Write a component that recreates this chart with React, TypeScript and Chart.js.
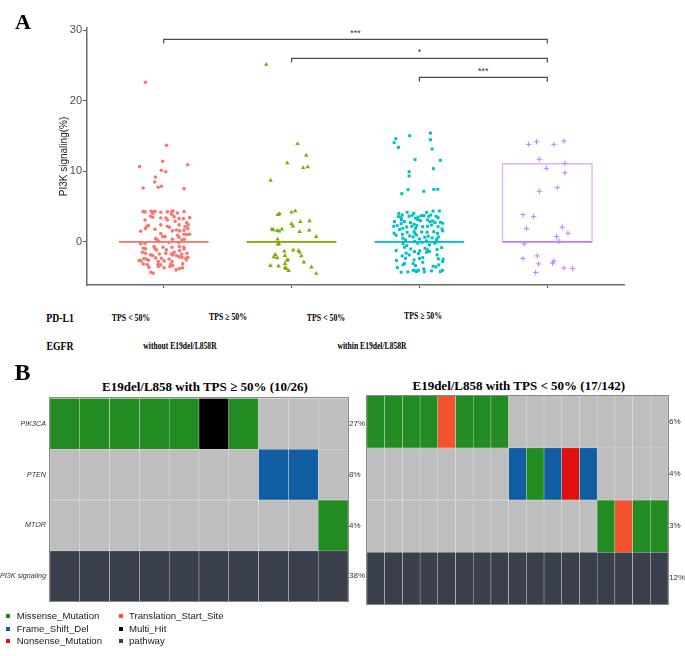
import React, { useEffect, useRef } from 'react';
import { Chart, registerables } from 'chart.js';

Chart.register(...registerables);
Chart.defaults.font.family = "'Liberation Sans', Arial, sans-serif";

// ---------- Panel A data ----------
const groupNames = ['TPS < 50%', 'TPS ≥ 50%', 'TPS < 50%', 'TPS ≥ 50%'];
const egfrNames = ['without E19del/L858R', 'within E19del/L858R'];
const categoryPositions = [1, 2, 3, 4];
const groupColors = ['#F8766D', '#7CAE00', '#00BFC4', '#C77CFF'];
const groupBoxColors = ['rgba(248,118,109,0.6)', 'rgba(124,174,0,0.6)', 'rgba(0,191,196,0.6)', 'rgba(199,124,255,0.6)'];
const groupShapes = ['circle', 'triangle', 'rect', 'cross'];
const yTicks = [0, 10, 20, 30];
const medians = [0, 0, 0, 0];
const boxLow = [0, 0, 0, 0];
const boxHigh = [0, 0, 0, 11.07];
const bracketStart = [1, 2, 3];
const bracketEnd = [4, 4, 4];
const bracketY = [28.7, 26.0, 23.3];
const bracketTip = 0.6;
const bracketLabels = ['***', '*', '***'];

// [jitter offset from category, PI3K signaling %]
const tpsLowWithout: number[][] = [
  [-0.143, 22.6], [0.023, 13.68], [-0.188, 10.66], [-0.008, 11.42], [0.188, 10.94], [-0.018, 10.14], [0.016, 9.95], [-0.065, 9.2], [-0.07, 8.49], [-0.044, 7.74], [-0.018, 7.88], [-0.161, 7.64], [0.159, 7.55],
  [-0.161, 4.29], [-0.146, 4.25], [-0.099, 4.34], [-0.083, 4.25], [-0.068, 4.34], [-0.023, 4.2], [0.063, 4.29], [0.073, 4.39], [0.107, 4.1], [0.159, 4.29], [0.029, 4.25], [-0.086, 4.06],
  [-0.102, 3.63], [-0.086, 3.49], [-0.023, 3.4], [0.018, 3.4], [0.063, 3.92], [0.081, 3.58], [0.12, 3.3], [0.154, 3.3], [0.203, 3.44],
  [-0.146, 3.11], [0.029, 3.11], [0.089, 2.92], [0.18, 2.74],
  [-0.12, 2.31], [-0.133, 2.17], [-0.023, 2.41], [0.029, 2.22], [0.044, 2.08], [0.12, 2.41], [0.167, 2.17], [0.19, 2.41],
  [-0.18, 1.51], [-0.143, 1.89], [-0.068, 1.79], [0.068, 1.56], [0.099, 1.7], [0.125, 1.56], [0.159, 1.65], [0.188, 1.89],
  [-0.023, 1.18], [-0.008, 0.75], [0.01, 0.75], [0.109, 0.94], [0.159, 1.08], [0.18, 1.04], [0.203, 1.08], [0.12, 0.66],
  [-0.063, 0.47], [-0.049, 0.28], [0.068, 0.38], [0.143, 0.28], [0.161, 0.38],
  [-0.18, -0.24], [-0.146, -0.19], [-0.036, 0.05], [0.042, -0.05], [0.117, -0.09],
  [-0.159, -0.9], [-0.076, -0.66], [-0.068, -0.9], [-0.005, -0.75], [0.065, -0.75], [0.122, -0.66], [0.156, -0.75], [-0.143, -0.99],
  [-0.057, -1.13], [0.021, -1.13], [0.125, -1.23], [0.159, -0.99], [0.081, -1.46], [-0.167, -1.46], [-0.143, -1.6],
  [-0.102, -1.84], [-0.086, -1.93], [-0.034, -1.7], [0.016, -1.6], [0.06, -1.7], [0.07, -1.84], [0.099, -1.93], [0.141, -1.75], [0.182, -1.6],
  [-0.154, -2.36], [-0.133, -2.45], [-0.063, -2.26], [-0.018, -2.31], [0.042, -2.41], [0.12, -2.12], [0.143, -2.22], [0.174, -2.31], [0.19, -2.17],
  [-0.193, -2.64], [-0.177, -2.69], [-0.12, -2.59], [-0.042, -2.78], [0.003, -2.69], [0.065, -2.78], [0.177, -2.55],
  [-0.159, -3.11], [-0.128, -3.21], [-0.044, -3.16], [-0.023, -3.25], [0.055, -3.16], [0.07, -3.35], [0.148, -3.11],
  [-0.115, -3.58], [-0.042, -3.49], [0.003, -3.68], [0.096, -3.96], [0.122, -3.77], [0.146, -3.68], [0.049, -3.49],
  [-0.099, -4.29], [-0.083, -4.43],
];

const tpsHighWithout: number[][] = [
  [-0.198, 25.13], [0.047, 13.9], [0.115, 12.26], [-0.034, 11.17], [0.091, 10.51], [0.127, 10.61], [-0.164, 8.72],
  [0, 4.2], [0.029, 4.38], [-0.107, 3.86], [-0.094, 3.96], [0.068, 2.87], [0.141, 2.97], [0, 2.55], [0.01, 2.22],
  [-0.154, 1.8], [-0.143, 1.7], [-0.112, 1.6], [-0.096, 1.51], [-0.076, 1.8], [0.063, 1.46], [0.138, 1.65], [0.193, 0.75],
  [-0.109, 0.38], [-0.107, -0.33], [-0.099, -0.28], [-0.057, -1.32], [0.013, -1.17], [0.055, -1.23], [0.063, -1.46],
  [-0.127, -1.8], [-0.138, -2.12], [-0.112, -2.26], [-0.052, -1.94], [0.076, -1.98], [-0.029, -2.5], [-0.037, -2.64],
  [-0.052, -3.07], [0.096, -2.87], [-0.166, -3.35], [-0.102, -3.44], [-0.052, -3.68], [-0.041, -3.78], [-0.023, -4.06],
  [0.156, -3.58], [0.193, -4.48],
];

const tpsLowWithin: number[][] = [
  [0.086, 15.42], [-0.076, 15.05], [-0.185, 14.62], [-0.198, 14.06], [0.086, 14.48], [-0.164, 13.4], [0.099, 13.16], [-0.034, 11.65], [0.164, 11.56],
  [0.109, 10.38], [-0.081, 9.95], [-0.081, 9.34], [-0.089, 7.41], [0.112, 7.45], [0.143, 7.45], [0.034, 7.17], [-0.138, 6.84],
  [-0.161, 4.05], [-0.096, 4.2], [-0.044, 4.05], [0.057, 4.2], [0.107, 4.38], [0.156, 4.38], [-0.135, 3.82],
  [-0.164, 3.58], [-0.143, 3.44], [-0.081, 3.63], [-0.057, 3.77], [-0.01, 3.54], [0.016, 3.72], [0.036, 3.72], [0.073, 3.63], [0.089, 3.82], [0.13, 3.63], [0.146, 3.44], [-0.031, 3.35],
  [-0.195, 2.88], [-0.141, 3.11], [-0.117, 2.88], [-0.07, 2.73], [-0.013, 3.16], [0.008, 3.02], [0.063, 3.11], [0.083, 2.88], [0.122, 2.73], [0.164, 2.78], [0.182, 2.64], [-0.143, 2.59], [-0.042, 2.5], [0.104, 2.97],
  [-0.201, 2.22], [-0.174, 2.31], [-0.13, 1.93], [-0.099, 2.12], [-0.06, 2.22], [-0.021, 2.31], [0.026, 2.17], [0.063, 2.22], [0.094, 2.4], [0.146, 2.17], [0.177, 1.84], [-0.156, 1.74], [-0.031, 1.93],
  [-0.198, 1.23], [-0.182, 0.94], [-0.133, 1.08], [-0.096, 1.37], [-0.042, 1.46], [-0.036, 1.23], [0.018, 1.41], [0.06, 1.37], [0.112, 1.46], [0.141, 1.23], [0.182, 1.56], [-0.023, 0.99],
  [-0.13, 0.52], [-0.109, 0.28], [-0.049, 0.71], [0, 0.42], [0.042, 0.66], [0.068, 0.8], [0.099, 0.57], [0.135, 0.38], [0.148, 0.71], [-0.076, 0.85],
  [-0.128, -0.24], [-0.039, 0.05], [-0.013, -0.19], [0.021, -0.05], [0.055, 0.14], [0.12, -0.19], [0.133, 0.05], [-0.099, -0.52], [0.078, -0.42],
  [-0.182, -1.23], [-0.117, -0.75], [-0.068, -0.99], [-0.039, -1.37], [0.003, -1.27], [0.044, -0.9], [0.063, -1.13], [0.078, -1.37], [0.138, -1.08], [0.174, -0.8],
  [-0.104, -1.6], [-0.081, -1.84], [-0.008, -1.65], [0.055, -1.46], [0.138, -1.84], [-0.135, -1.98],
  [-0.18, -2.64], [-0.109, -2.31], [-0.042, -2.55], [0, -2.36], [0.026, -2.22], [0.148, -2.4], [0.185, -2.45], [0.182, -2.78],
  [-0.172, -3.63], [-0.128, -3.25], [-0.049, -3.06], [-0.031, -3.35], [0.026, -2.88], [0.107, -3.44], [0.151, -3.25], [-0.117, -3.06],
  [-0.143, -4.29], [-0.091, -4.24], [-0.049, -4.01], [-0.031, -4.1], [-0.008, -4.01], [0.034, -3.82], [0.039, -4.24], [0.094, -4.1], [0.128, -3.54], [0.164, -4.2], [0.18, -4.01], [-0.021, -4.2],
];

const tpsHighWithin: number[][] = [
  [-0.146, 13.82], [-0.084, 14.19], [0.052, 13.82], [0.13, 14.29], [-0.062, 11.7], [0.138, 11.13], [-0.008, 10.42], [0.138, 9.8],
  [0.078, 7.68], [-0.062, 7.17], [-0.19, 3.86], [-0.107, 3.58], [-0.162, 1.88], [0.117, 2.08], [0.162, 1.23], [0.073, 0.75],
  [0.092, 0.1], [-0.18, -0.28], [-0.19, -2.36], [-0.078, -1.98], [-0.068, -3.11], [0.052, -2.69], [0.041, -3.01], [0.13, -3.68],
  [0.198, -3.78], [-0.091, -4.34],
];

// ---------- Panel B data ----------
const mutationCodes = ['M', 'F', 'N', 'T', 'H', 'P'];
const mutationTypes = ['Missense_Mutation', 'Frame_Shift_Del', 'Nonsense_Mutation', 'Translation_Start_Site', 'Multi_Hit', 'pathway'];
const mutationColors = ['#228B22', '#115DA1', '#E0100F', '#F2532C', '#000000', '#393F4C'];
const emptyColor = '#BEBEBE';
const geneNames = ['PIK3CA', 'PTEN', 'MTOR', 'PI3K signaling'];

const highTitle = 'E19del/L858 with TPS ≥ 50% (10/26)';
const highPct = ['27%', '8%', '4%', '38%'];
const highPIK3CA = ['M', 'M', 'M', 'M', 'M', 'H', 'M', '', '', ''];
const highPTEN = ['', '', '', '', '', '', '', 'F', 'F', ''];
const highMTOR = ['', '', '', '', '', '', '', '', '', 'M'];
const highPathway = ['P', 'P', 'P', 'P', 'P', 'P', 'P', 'P', 'P', 'P'];

const lowTitle = 'E19del/L858 with TPS < 50% (17/142)';
const lowPct = ['6%', '4%', '3%', '12%'];
const lowPIK3CA = ['M', 'M', 'M', 'M', 'T', 'M', 'M', 'M', '', '', '', '', '', '', '', '', ''];
const lowPTEN = ['', '', '', '', '', '', '', '', 'F', 'M', 'F', 'N', 'F', '', '', '', ''];
const lowMTOR = ['', '', '', '', '', '', '', '', '', '', '', '', '', 'M', 'T', 'M', 'M'];
const lowPathway = ['P', 'P', 'P', 'P', 'P', 'P', 'P', 'P', 'P', 'P', 'P', 'P', 'P', 'P', 'P', 'P', 'P'];

const colorOf = (c: string) => {
  const i = mutationCodes.indexOf(c);
  return i < 0 ? emptyColor : mutationColors[i];
};

const sigPlugin = {
  id: 'sigLabels',
  afterDatasetsDraw(chart: any) {
    const { ctx, scales } = chart;
    ctx.save();
    ctx.font = "9px 'Liberation Sans', Arial, sans-serif";
    ctx.fillStyle = '#333';
    ctx.textAlign = 'center';
    ctx.textBaseline = 'alphabetic';
    bracketLabels.forEach((t, i) => {
      const px = scales.x.getPixelForValue((bracketStart[i] + bracketEnd[i]) / 2);
      const py = scales.y.getPixelForValue(bracketY[i]);
      ctx.fillText(t, px, py - 3.5);
    });
    ctx.restore();
  },
};

const framePlugin = {
  id: 'frame',
  afterDatasetsDraw(chart: any) {
    const { ctx, chartArea } = chart;
    const { left, top, right, bottom } = chartArea;
    ctx.save();
    ctx.strokeStyle = '#8A8A8A';
    ctx.lineWidth = 1;
    ctx.strokeRect(Math.round(left) - 0.5, Math.round(top) - 0.5, Math.round(right - left) + 1, Math.round(bottom - top) + 1);
    ctx.restore();
  },
};

function makeScatter(canvas: HTMLCanvasElement) {
  const groups = [tpsLowWithout, tpsHighWithout, tpsLowWithin, tpsHighWithin];
  const w = 0.35;
  const pointSets = groups.map((g, i) => ({
    label: groupNames[i],
    data: g.map(([dx, v]) => ({ x: categoryPositions[i] + dx, y: v })),
    pointStyle: groupShapes[i],
    pointRadius: [1.8, 2.6, 2.1, 2.7][i],
    backgroundColor: groupColors[i],
    borderColor: groupColors[i],
    borderWidth: i === 3 ? 1 : 0,
    showLine: false,
    order: 2,
  }));
  const boxSets = groups.map((_, i) => {
    const c = categoryPositions[i];
    return {
      data: [
        { x: c - w, y: boxLow[i] }, { x: c - w, y: boxHigh[i] }, { x: c + w, y: boxHigh[i] },
        { x: c + w, y: boxLow[i] }, { x: c - w, y: boxLow[i] },
      ],
      showLine: true, pointRadius: 0, borderColor: groupBoxColors[i], borderWidth: 1.3, order: 1,
    };
  });
  const medianSets = groups.map((_, i) => {
    const c = categoryPositions[i];
    return {
      data: [{ x: c - w, y: medians[i] }, { x: c + w, y: medians[i] }],
      showLine: true, pointRadius: 0, borderColor: groupColors[i], borderWidth: 1.8, order: 0,
    };
  });
  const bracketSets = bracketStart.map((s, i) => ({
    data: [
      { x: s, y: bracketY[i] - bracketTip }, { x: s, y: bracketY[i] },
      { x: bracketEnd[i], y: bracketY[i] }, { x: bracketEnd[i], y: bracketY[i] - bracketTip },
    ],
    showLine: true, pointRadius: 0, borderColor: '#4a4a4a', borderWidth: 1.2, order: 0,
  }));
  return new Chart(canvas, {
    type: 'scatter',
    data: { datasets: [...medianSets, ...bracketSets, ...boxSets, ...pointSets] as any },
    options: {
      animation: false,
      responsive: false,
      events: [],
      layout: { padding: { left: 55, right: 61, top: 28, bottom: 0 } },
      plugins: { legend: { display: false }, tooltip: { enabled: false } },
      scales: {
        x: {
          type: 'linear', min: 0.4, max: 4.6,
          afterBuildTicks: (s: any) => { s.ticks = categoryPositions.map((v) => ({ value: v })); },
          ticks: { display: false },
          grid: { drawOnChartArea: false, drawTicks: true, tickLength: 3, tickColor: '#555', lineWidth: 1 },
          border: { display: true, color: '#6a6a6a', width: 1.5 },
          afterFit: (s: any) => { s.height = 15; },
        },
        y: {
          type: 'linear', min: -6.1, max: 30.3,
          afterBuildTicks: (s: any) => { s.ticks = yTicks.map((v) => ({ value: v })); },
          ticks: { color: '#4D4D4D', font: { size: 11 }, padding: 1, callback: (v: any) => String(v) },
          grid: { drawOnChartArea: false, drawTicks: true, tickLength: 4, tickColor: '#555', lineWidth: 1 },
          border: { display: true, color: '#6a6a6a', width: 1.5 },
          title: { display: true, text: 'PI3K signaling(%)', color: '#222', font: { size: 10 }, padding: { top: 3, bottom: 0 } },
          afterFit: (s: any) => { s.width = 32; },
        },
      },
    } as any,
    plugins: [sigPlugin],
  });
}

function makeHeatmap(canvas: HTMLCanvasElement, rows: string[][], pct: string[], showGenes: boolean, pad: any, leftW: number, rightW: number) {
  const rowTicks = rows.map((_, r) => r + 0.5);
  return new Chart(canvas, {
    type: 'bar',
    data: {
      labels: rows[0].map((_, i) => String(i + 1)),
      datasets: rows.map((row, r) => ({
        label: geneNames[r],
        data: row.map(() => [r, r + 1]),
        backgroundColor: row.map((c) => colorOf(c)),
        borderColor: '#E2E2E2',
        borderWidth: 0.5,
        borderSkipped: false,
        grouped: false,
        barPercentage: 1,
        categoryPercentage: 1,
      })),
    } as any,
    options: {
      animation: false,
      responsive: false,
      events: [],
      layout: { padding: pad },
      plugins: { legend: { display: false }, tooltip: { enabled: false } },
      scales: {
        x: { display: false, offset: true },
        y: {
          type: 'linear', min: 0, max: rows.length, reverse: true, position: 'left', display: showGenes,
          afterBuildTicks: (s: any) => { s.ticks = rowTicks.map((v) => ({ value: v })); },
          ticks: { autoSkip: false, color: '#333', padding: 4, font: { size: 7.2, style: 'italic' }, callback: (v: any) => geneNames[Math.floor(v)] },
          grid: { display: false, drawTicks: false },
          border: { display: false },
          afterFit: (s: any) => { s.width = leftW; },
        },
        y2: {
          type: 'linear', min: 0, max: rows.length, reverse: true, position: 'right',
          afterBuildTicks: (s: any) => { s.ticks = rowTicks.map((v) => ({ value: v })); },
          ticks: { autoSkip: false, color: '#333', padding: 1, font: { size: 8 }, callback: (v: any) => pct[Math.floor(v)] },
          grid: { display: false, drawTicks: false },
          border: { display: false },
          afterFit: (s: any) => { s.width = rightW; },
        },
      },
    } as any,
    plugins: [framePlugin],
  });
}

const serif = "'Liberation Serif', 'Times New Roman', serif";
const sans = "'Liberation Sans', Arial, sans-serif";

function Label(props: { text: string; cx: number; cy: number; size: number; sx?: number; bold?: boolean; font?: string; color?: string }) {
  const { text, cx, cy, size, sx = 1, bold = true, font = serif, color = '#000' } = props;
  return (
    <div
      style={{
        position: 'absolute', left: cx, top: cy, transform: `translate(-50%, -50%) scaleX(${sx})`,
        whiteSpace: 'nowrap', lineHeight: 1, fontSize: size, fontFamily: font, fontWeight: bold ? 'bold' : 'normal', color,
      }}
    >
      {text}
    </div>
  );
}

export default function App() {
  const aRef = useRef<HTMLCanvasElement>(null);
  const bLeftRef = useRef<HTMLCanvasElement>(null);
  const bRightRef = useRef<HTMLCanvasElement>(null);

  useEffect(() => {
    const charts: Chart[] = [];
    if (aRef.current) charts.push(makeScatter(aRef.current));
    if (bLeftRef.current)
      charts.push(makeHeatmap(bLeftRef.current, [highPIK3CA, highPTEN, highMTOR, highPathway], highPct, true, { left: 0, right: 0, top: 6, bottom: 5 }, 50, 18));
    if (bRightRef.current)
      charts.push(makeHeatmap(bRightRef.current, [lowPIK3CA, lowPTEN, lowMTOR, lowPathway], lowPct, false, { left: 7, right: 0, top: 5, bottom: 4 }, 0, 17));
    return () => charts.forEach((c) => c.destroy());
  }, []);

  const legendX = [5.5, 118.5];
  const legendTextX = [16.7, 129];
  const legendY = [616, 628.7, 640.7];

  return (
    <div style={{ position: 'fixed', left: 0, top: 0, width: 685, height: 656, background: '#fff', overflow: 'hidden' }}>
      <canvas ref={aRef} width={685} height={300} style={{ position: 'absolute', left: 0, top: 0 }} />
      <Label text="A" cx={23} cy={22} size={22} />
      <Label text="PD-L1" cx={60.3} cy={317.5} size={12.5} sx={0.78} />
      <Label text={groupNames[0]} cx={130.8} cy={318} size={10} sx={0.78} />
      <Label text={groupNames[1]} cx={227.5} cy={316.5} size={10} sx={0.78} />
      <Label text={groupNames[2]} cx={325.5} cy={318} size={10} sx={0.78} />
      <Label text={groupNames[3]} cx={423} cy={315.5} size={10} sx={0.78} />
      <Label text="EGFR" cx={59.7} cy={346} size={12.5} sx={0.78} />
      <Label text={egfrNames[0]} cx={179.7} cy={346} size={10} sx={0.76} />
      <Label text={egfrNames[1]} cx={371.7} cy={346} size={10} sx={0.76} />

      <Label text="B" cx={22.5} cy={372} size={24} />
      <Label text={highTitle} cx={205} cy={386} size={13} />
      <Label text={lowTitle} cx={518.8} cy={385} size={13} />
      <canvas ref={bLeftRef} width={366} height={220} style={{ position: 'absolute', left: 0, top: 390 }} />
      <canvas ref={bRightRef} width={325} height={220} style={{ position: 'absolute', left: 360, top: 390 }} />

      {mutationTypes.map((t, i) => {
        const col = i < 3 ? 0 : 1;
        const row = i % 3;
        return (
          <React.Fragment key={t}>
            <div style={{ position: 'absolute', left: legendX[col], top: legendY[row] - 2, width: 4, height: 4, background: mutationColors[i] }} />
            <div style={{ position: 'absolute', left: legendTextX[col], top: legendY[row], transform: 'translateY(-50%)', whiteSpace: 'nowrap', lineHeight: 1, fontSize: 9.6, fontFamily: sans, color: '#1a1a1a' }}>
              {t}
            </div>
          </React.Fragment>
        );
      })}
    </div>
  );
}
